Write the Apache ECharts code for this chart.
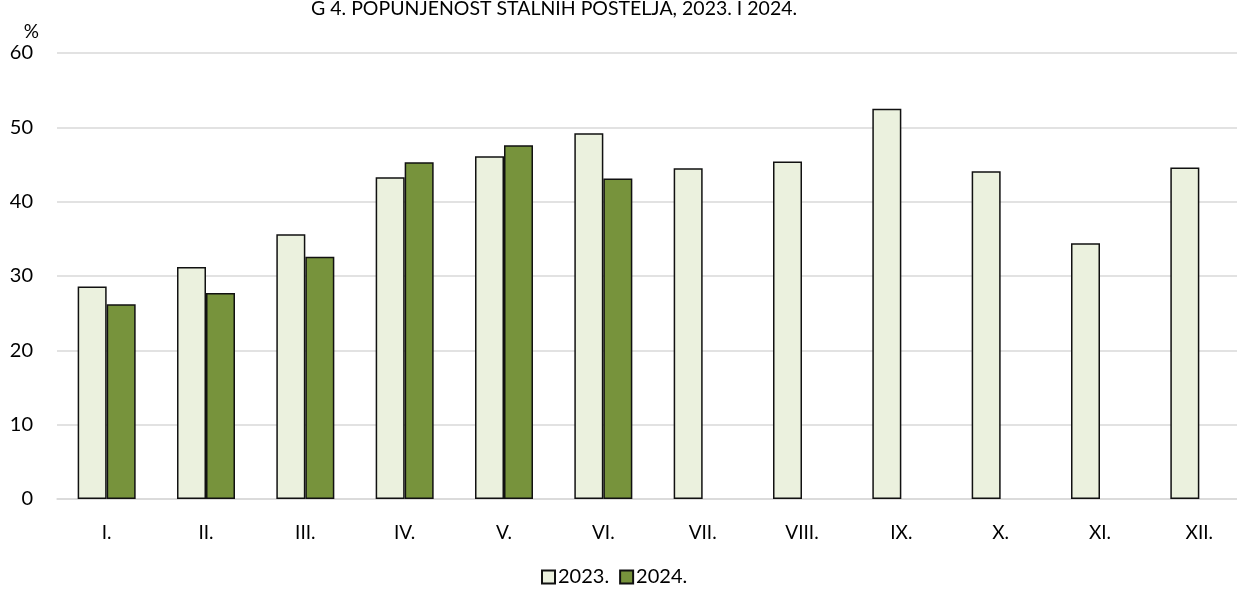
<!DOCTYPE html>
<html>
<head>
<meta charset="utf-8">
<script src="https://cdn.jsdelivr.net/npm/echarts@6/dist/echarts.min.js"></script>
<style>
  html, body { margin: 0; padding: 0; background: #fff; overflow: hidden; }
  #chart { width: 1249px; height: 592px; }
</style>
</head>
<body>
<div id="chart"></div>
<script>
var months = ['I.', 'II.', 'III.', 'IV.', 'V.', 'VI.', 'VII.', 'VIII.', 'IX.', 'X.', 'XI.', 'XII.'];
var data2023 = [28.6, 31.2, 35.6, 43.3, 46.1, 49.2, 44.5, 45.4, 52.5, 44.1, 34.4, 44.6];
var data2024 = [26.2, 27.7, 32.6, 45.3, 47.6, 43.1, null, null, null, null, null, null];
var yTicks = [0, 10, 20, 30, 40, 50, 60];

var font = 'Lato, "Open Sans", sans-serif';

// the original chart is cut off on the right, so the canvas is a bit wider than the window
var myChart = echarts.init(document.getElementById('chart'));
var option = {
    animation: false,
    textStyle: { fontFamily: font },
    title: {
        text: 'G 4. POPUNJENOST STALNIH POSTELJA, 2023. I 2024.',
        left: 306,
        top: -6,
        textStyle: { fontFamily: font, fontSize: 19.5, fontWeight: 'normal', color: '#000' }
    },
    legend: {
        bottom: 0,
        left: 536,
        icon: 'rect',
        itemWidth: 13,
        itemHeight: 13,
        itemGap: 10,
        textStyle: { fontFamily: font, fontSize: 20, color: '#000', padding: [0, 0, 0, -2] },
        data: ['2023.', '2024.']
    },
    grid: {
        left: 57,
        right: 0,
        top: 53,
        bottom: 93,
        containLabel: false
    },
    xAxis: {
        type: 'category',
        data: months,
        axisLine: { lineStyle: { color: '#d9d9d9', width: 1.5 } },
        axisTick: { show: false },
        axisLabel: { fontFamily: font, fontSize: 19, color: '#000', margin: 24 }
    },
    yAxis: {
        type: 'value',
        name: '%',
        nameGap: 12,
        nameTextStyle: { fontFamily: font, fontSize: 19, color: '#000', align: 'right', padding: [0, 18, 0, 0] },
        min: yTicks[0],
        max: yTicks[yTicks.length - 1],
        interval: 10,
        axisLine: { show: false },
        axisTick: { show: false },
        axisLabel: { fontFamily: font, fontSize: 20, color: '#000', margin: 24 },
        splitLine: { lineStyle: { color: '#d9d9d9', width: 1.5 } }
    },
    series: [
        {
            name: '2023.',
            type: 'bar',
            data: data2023,
            barWidth: 29,
            barGap: '0%',
            itemStyle: { color: '#ebf1de', borderColor: '#111', borderWidth: 1.5 }
        },
        {
            name: '2024.',
            type: 'bar',
            data: data2024,
            barWidth: 29,
            itemStyle: { color: '#77933c', borderColor: '#111', borderWidth: 1.5 }
        }
    ]
};
myChart.setOption(option);
</script>
</body>
</html>
